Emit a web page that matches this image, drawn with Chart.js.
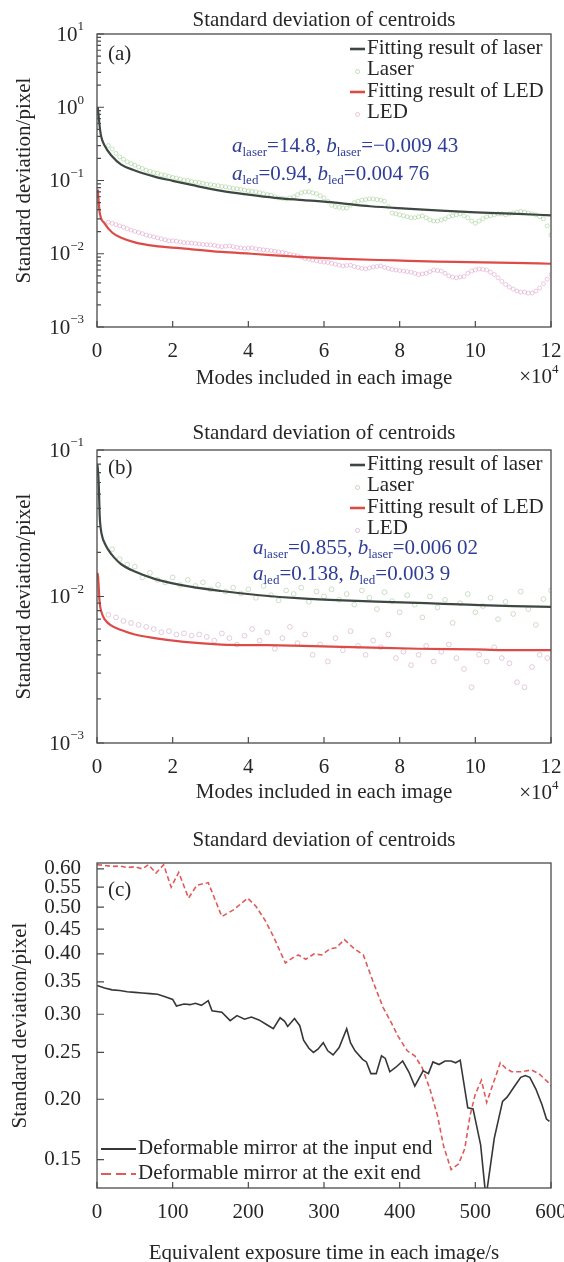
<!DOCTYPE html>
<html>
<head>
<meta charset="utf-8">
<script src="https://cdn.jsdelivr.net/npm/chart.js@4.4.1/dist/chart.umd.min.js"></script>
<style>
  html, body { margin: 0; padding: 0; background: #fff; }
  body { width: 564px; height: 1262px; position: relative; overflow: hidden; }
  canvas { position: absolute; left: 0; }
</style>
</head>
<body>
<canvas id="chartA" width="564" height="408" style="top:0px"></canvas>
<canvas id="chartB" width="564" height="400" style="top:408px"></canvas>
<canvas id="chartC" width="564" height="454" style="top:808px"></canvas>
<script>
const FONT = '"Liberation Serif", "Times New Roman", Times, serif';
const INK = '#262626';
const NOTE_BLUE = '#2f3d96';

const chartTitle = 'Standard deviation of centroids';
const yTitle = 'Standard deviation/pixel';
const xTitleModes = 'Modes included in each image';
const xTitleTime = 'Equivalent exposure time in each image/s';

// tick values
const xTicksModes = [0, 2, 4, 6, 8, 10, 12];
const yTicksA = [10, 1, 0.1, 0.01, 0.001];
const yTicksB = [0.1, 0.01, 0.001];
const xTicksTime = [0, 100, 200, 300, 400, 500, 600];
const yTicksC = [0.15, 0.20, 0.25, 0.30, 0.35, 0.40, 0.45, 0.50, 0.55, 0.60];

// ---- panel (a) ----  x in units of 10^4 modes
const aFitLaserX = [0.02, 0.05, 0.08, 0.11, 0.2, 0.38, 0.64, 1.0, 1.52, 2.0, 2.5, 3.29, 4.0, 4.7, 5.45, 6.29, 7.22, 8.17, 9.09, 10.02, 10.94, 12];
const aFitLaserY = [1.0, 0.7, 0.5, 0.4, 0.3, 0.22, 0.165, 0.137, 0.113, 0.099, 0.087, 0.072, 0.064, 0.058, 0.054, 0.050, 0.0445, 0.0413, 0.0388, 0.0368, 0.0353, 0.0335];
const aFitLedX = [0.02, 0.07, 0.2, 0.4, 0.64, 1.0, 1.52, 2.19, 3.29, 4.08, 5.45, 6.5, 7.88, 9.0, 9.79, 11.0, 12];
const aFitLedY = [0.075, 0.037, 0.026, 0.0195, 0.0165, 0.0143, 0.0128, 0.0119, 0.0106, 0.0100, 0.0090, 0.0085, 0.0081, 0.0078, 0.0077, 0.0075, 0.0073];

// measured points as [x, y]
const aLaserPts = [
  [0.3, 0.30], [0.4, 0.27], [0.5, 0.235], [0.6, 0.21], [0.7, 0.195], [0.8, 0.18], [0.9, 0.17], [1.0, 0.162],
  [1.1, 0.152], [1.2, 0.146], [1.3, 0.138], [1.4, 0.133], [1.5, 0.128], [1.6, 0.126], [1.7, 0.12], [1.8, 0.118],
  [1.9, 0.114], [2.0, 0.11], [2.1, 0.108], [2.2, 0.105], [2.3, 0.101], [2.4, 0.1], [2.5, 0.097], [2.6, 0.095],
  [2.7, 0.094], [2.8, 0.092], [2.9, 0.089], [3.0, 0.088], [3.1, 0.086], [3.2, 0.085], [3.3, 0.083], [3.4, 0.082],
  [3.5, 0.08], [3.6, 0.078], [3.7, 0.077], [3.8, 0.076], [3.9, 0.074], [4.0, 0.072], [4.1, 0.071], [4.2, 0.07],
  [4.3, 0.068], [4.4, 0.066], [4.5, 0.064], [4.6, 0.063], [4.7, 0.06], [4.8, 0.058], [4.9, 0.057], [5.0, 0.056],
  [5.1, 0.058], [5.2, 0.06], [5.3, 0.064], [5.4, 0.068], [5.5, 0.07], [5.6, 0.07], [5.7, 0.068], [5.8, 0.066],
  [5.9, 0.062], [6.0, 0.058], [6.1, 0.052], [6.2, 0.046], [6.3, 0.044], [6.4, 0.043], [6.5, 0.042], [6.6, 0.042],
  [6.7, 0.046], [6.8, 0.05], [6.9, 0.052], [7.0, 0.054], [7.1, 0.055], [7.2, 0.056], [7.3, 0.056], [7.4, 0.055],
  [7.5, 0.054], [7.6, 0.052], [7.7, 0.044], [7.8, 0.036], [7.9, 0.035], [8.0, 0.034], [8.1, 0.033], [8.2, 0.032],
  [8.3, 0.031], [8.4, 0.031], [8.5, 0.032], [8.6, 0.033], [8.7, 0.031], [8.8, 0.029], [8.9, 0.028], [9.0, 0.028],
  [9.1, 0.029], [9.2, 0.03], [9.3, 0.032], [9.4, 0.033], [9.5, 0.034], [9.6, 0.035], [9.7, 0.033], [9.8, 0.031],
  [9.9, 0.028], [10.0, 0.026], [10.1, 0.028], [10.2, 0.03], [10.3, 0.032], [10.4, 0.033], [10.5, 0.034], [10.6, 0.035],
  [10.7, 0.035], [10.8, 0.034], [10.9, 0.035], [11.0, 0.036], [11.1, 0.037], [11.2, 0.038], [11.3, 0.037], [11.4, 0.036],
  [11.5, 0.035], [11.6, 0.034], [11.7, 0.032], [11.8, 0.03], [11.9, 0.024], [12.0, 0.018],
];
const aLedPts = [
  [0.3, 0.027], [0.4, 0.026], [0.5, 0.025], [0.6, 0.024], [0.7, 0.023], [0.8, 0.022], [0.9, 0.021], [1.0, 0.0202],
  [1.1, 0.0195], [1.2, 0.0188], [1.3, 0.018], [1.4, 0.0175], [1.5, 0.017], [1.6, 0.0165], [1.7, 0.016], [1.8, 0.0155],
  [1.9, 0.015], [2.0, 0.015], [2.1, 0.0148], [2.2, 0.0145], [2.3, 0.0142], [2.4, 0.0141], [2.5, 0.014], [2.6, 0.0138],
  [2.7, 0.0136], [2.8, 0.0134], [2.9, 0.0133], [3.0, 0.0132], [3.1, 0.013], [3.2, 0.0127], [3.3, 0.0125], [3.4, 0.0127],
  [3.5, 0.0128], [3.6, 0.0125], [3.7, 0.0122], [3.8, 0.012], [3.9, 0.0118], [4.0, 0.0119], [4.1, 0.012], [4.2, 0.0117],
  [4.3, 0.0115], [4.4, 0.0113], [4.5, 0.0112], [4.6, 0.011], [4.7, 0.0108], [4.8, 0.0106], [4.9, 0.0104], [5.0, 0.0101],
  [5.1, 0.0098], [5.2, 0.0096], [5.3, 0.0094], [5.4, 0.009], [5.5, 0.0086], [5.6, 0.0084], [5.7, 0.0082], [5.8, 0.008],
  [5.9, 0.0078], [6.0, 0.0077], [6.1, 0.0076], [6.2, 0.0074], [6.3, 0.0072], [6.4, 0.007], [6.5, 0.0068], [6.6, 0.0069],
  [6.7, 0.007], [6.8, 0.0067], [6.9, 0.0065], [7.0, 0.0063], [7.1, 0.0062], [7.2, 0.0064], [7.3, 0.0066], [7.4, 0.0067],
  [7.5, 0.0068], [7.6, 0.0065], [7.7, 0.0063], [7.8, 0.0061], [7.9, 0.006], [8.0, 0.0059], [8.1, 0.0058], [8.2, 0.0057],
  [8.3, 0.0056], [8.4, 0.0054], [8.5, 0.0052], [8.6, 0.0053], [8.7, 0.0054], [8.8, 0.0057], [8.9, 0.006], [9.0, 0.0059],
  [9.1, 0.0058], [9.2, 0.0054], [9.3, 0.005], [9.4, 0.0048], [9.5, 0.0047], [9.6, 0.0048], [9.7, 0.0049], [9.8, 0.0054],
  [9.9, 0.0058], [10.0, 0.006], [10.1, 0.0062], [10.2, 0.0061], [10.3, 0.006], [10.4, 0.0056], [10.5, 0.0052], [10.6, 0.0047],
  [10.7, 0.0042], [10.8, 0.0038], [10.9, 0.0035], [11.0, 0.0033], [11.1, 0.0031], [11.2, 0.003], [11.3, 0.003], [11.4, 0.0029],
  [11.5, 0.0029], [11.6, 0.0031], [11.7, 0.0034], [11.8, 0.0039], [11.9, 0.0045], [12.0, 0.0052],
];

// ---- panel (b) ----
const bFitLaserX = [0.01, 0.03, 0.05, 0.07, 0.1, 0.15, 0.2, 0.29, 0.45, 0.64, 1.0, 1.52, 2.2, 3.29, 4.3, 5.4, 6.5, 7.6, 8.7, 9.8, 11.0, 12];
const bFitLaserY = [0.08, 0.07, 0.055, 0.036, 0.029, 0.025, 0.0232, 0.021, 0.0185, 0.0166, 0.0148, 0.0132, 0.012, 0.0109, 0.0102, 0.0097, 0.0094, 0.0092, 0.009, 0.0088, 0.0086, 0.0085];
const bFitLedX = [0.01, 0.03, 0.05, 0.07, 0.12, 0.2, 0.35, 0.64, 1.0, 1.52, 2.3, 3.29, 4.5, 5.45, 7, 8.5, 10, 11.05, 12];
const bFitLedY = [0.0145, 0.0135, 0.011, 0.0091, 0.0078, 0.007, 0.0064, 0.0059, 0.0055, 0.0052, 0.0049, 0.0047, 0.00465, 0.0046, 0.0045, 0.0044, 0.00435, 0.0043, 0.0043];

const bLaserX = [0.4, 0.6, 0.8, 1.0, 1.2, 1.4, 1.6, 1.8, 2.0, 2.2, 2.4, 2.6, 2.8, 3.0, 3.2, 3.4, 3.6, 3.8, 4.0, 4.2, 4.4, 4.6, 4.8, 5.0, 5.2, 5.4, 5.6, 5.8, 6.0, 6.2, 6.4, 6.6, 6.8, 7.0, 7.2, 7.4, 7.6, 7.8, 8.0, 8.2, 8.4, 8.6, 8.8, 9.0, 9.2, 9.4, 9.6, 9.8, 10.0, 10.2, 10.4, 10.6, 10.8, 11.0, 11.2, 11.4, 11.6, 11.8, 12.0];
const bLaserY = [0.021, 0.018, 0.0165, 0.016, 0.0135, 0.0145, 0.013, 0.0125, 0.0135, 0.012, 0.013, 0.0118, 0.0125, 0.0112, 0.012, 0.0108, 0.0115, 0.0105, 0.0112, 0.0098, 0.0118, 0.0102, 0.0094, 0.0110, 0.0104, 0.0115, 0.0092, 0.0108, 0.0100, 0.0112, 0.0095, 0.0104, 0.0088, 0.0110, 0.0098, 0.0082, 0.0107, 0.0093, 0.0078, 0.0102, 0.0088, 0.0072, 0.0100, 0.0084, 0.0095, 0.0066, 0.0090, 0.0104, 0.0078, 0.0086, 0.0098, 0.0070, 0.0092, 0.0076, 0.0108, 0.0082, 0.0064, 0.0096, 0.0110];
const bLedX = [0.3, 0.5, 0.7, 0.9, 1.1, 1.3, 1.5, 1.7, 1.9, 2.1, 2.3, 2.5, 2.7, 2.9, 3.1, 3.3, 3.5, 3.7, 3.9, 4.1, 4.3, 4.5, 4.7, 4.9, 5.1, 5.3, 5.5, 5.7, 5.9, 6.1, 6.3, 6.5, 6.7, 6.9, 7.1, 7.3, 7.5, 7.7, 7.9, 8.1, 8.3, 8.5, 8.7, 8.9, 9.1, 9.3, 9.5, 9.7, 9.9, 10.1, 10.3, 10.5, 10.7, 10.9, 11.1, 11.3, 11.5, 11.7, 11.9];
const bLedY = [0.0075, 0.0072, 0.0068, 0.0066, 0.0064, 0.0062, 0.0060, 0.0057, 0.0058, 0.0055, 0.0056, 0.0054, 0.0055, 0.0053, 0.0050, 0.0056, 0.0052, 0.0047, 0.0054, 0.0060, 0.0050, 0.0057, 0.0044, 0.0052, 0.0062, 0.0048, 0.0055, 0.0040, 0.0047, 0.0036, 0.0052, 0.0043, 0.0058, 0.0046, 0.0040, 0.0050, 0.0045, 0.0055, 0.0038, 0.0042, 0.0034, 0.0040, 0.0046, 0.0036, 0.0042, 0.0047, 0.0038, 0.0032, 0.0024, 0.0040, 0.0036, 0.0045, 0.0038, 0.0035, 0.0026, 0.0024, 0.0033, 0.0040, 0.0038];

// ---- panel (c) ----  x in seconds
const cInputX = [0, 10, 20, 30, 40, 50, 60, 70, 80, 90, 100, 105, 115, 123, 130, 138, 147, 152, 165, 176, 185, 195, 204, 214, 225, 233, 242, 248, 252, 261, 268, 273, 280, 286, 292, 299, 305, 312, 320, 330, 335, 341, 351, 356, 362, 369, 376, 381, 387, 395, 404, 412, 420, 431, 438, 444, 452, 460, 468, 474, 480, 490, 497, 507, 514, 525, 536, 542, 552, 560, 566, 572, 580, 588, 594, 598];
const cInputY = [0.344, 0.340, 0.337, 0.336, 0.334, 0.333, 0.332, 0.331, 0.330, 0.326, 0.322, 0.312, 0.315, 0.314, 0.316, 0.313, 0.320, 0.305, 0.303, 0.291, 0.298, 0.293, 0.296, 0.292, 0.285, 0.280, 0.295, 0.290, 0.283, 0.294, 0.284, 0.265, 0.255, 0.250, 0.254, 0.262, 0.252, 0.247, 0.256, 0.280, 0.262, 0.252, 0.242, 0.239, 0.226, 0.226, 0.246, 0.243, 0.228, 0.233, 0.240, 0.228, 0.213, 0.229, 0.226, 0.239, 0.236, 0.240, 0.240, 0.238, 0.241, 0.192, 0.191, 0.161, 0.125, 0.166, 0.198, 0.202, 0.213, 0.222, 0.224, 0.222, 0.210, 0.195, 0.182, 0.180];
const cExitX = [0, 10, 20, 30, 40, 50, 60, 68, 78, 88, 98, 108, 121, 132, 147, 165, 181, 199, 210, 222, 233, 249, 258, 266, 276, 287, 297, 308, 316, 327, 340, 352, 365, 378, 388, 398, 410, 420, 430, 440, 450, 458, 468, 478, 486, 493, 500, 508, 515, 522, 533, 540, 548, 560, 574, 584, 596, 600];
const cExitY = [0.612, 0.610, 0.607, 0.608, 0.604, 0.606, 0.600, 0.612, 0.588, 0.612, 0.550, 0.590, 0.522, 0.555, 0.562, 0.478, 0.494, 0.522, 0.502, 0.470, 0.435, 0.383, 0.392, 0.398, 0.390, 0.400, 0.398, 0.410, 0.412, 0.428, 0.410, 0.398, 0.350, 0.310, 0.290, 0.270, 0.252, 0.246, 0.232, 0.210, 0.185, 0.160, 0.143, 0.147, 0.158, 0.185, 0.205, 0.219, 0.197, 0.212, 0.238, 0.232, 0.228, 0.228, 0.230, 0.226, 0.217, 0.213];

// fitted parameters printed on the plots
const notesA = [
  [['a', 'i'], ['laser', 's'], ['=14.8, ', ''], ['b', 'i'], ['laser', 's'], ['=\u22120.009 43', '']],
  [['a', 'i'], ['led', 's'], ['=0.94, ', ''], ['b', 'i'], ['led', 's'], ['=0.004 76', '']],
];
const notesB = [
  [['a', 'i'], ['laser', 's'], ['=0.855, ', ''], ['b', 'i'], ['laser', 's'], ['=0.006 02', '']],
  [['a', 'i'], ['led', 's'], ['=0.138, ', ''], ['b', 'i'], ['led', 's'], ['=0.003 9', '']],
];

Chart.defaults.font.family = FONT;
Chart.defaults.color = INK;
Chart.defaults.animation = false;

function pts(xs, ys) { return xs.map((x, i) => ({ x, y: ys[i] })); }
function pairs(list) { return list.map(([x, y]) => ({ x, y })); }

function curve(label, data, color, width, dash, smooth) {
  return {
    label, data, showLine: true,
    borderColor: color, backgroundColor: color, borderWidth: width,
    borderDash: dash || [], pointRadius: 0, pointHoverRadius: 0,
    cubicInterpolationMode: smooth ? 'monotone' : 'default', tension: 0,
    order: 0,
  };
}

function dots(label, data, color, r) {
  return {
    label, data, showLine: false,
    pointStyle: 'circle', pointRadius: r, pointBorderWidth: 0.9,
    borderColor: color, backgroundColor: 'rgba(255,255,255,0)',
    order: 1,
  };
}

function richLine(ctx, segs, x, base) {
  segs.forEach(([t, s]) => {
    if (s === 's') {
      ctx.font = `13px ${FONT}`;
      ctx.fillText(t, x, base + 4);
    } else {
      ctx.font = (s === 'i' ? 'italic ' : '') + `21px ${FONT}`;
      ctx.fillText(t, x, base);
    }
    x += ctx.measureText(t).width;
  });
}

// frame, inward ticks, log labels, legend and notes
const decorations = {
  id: 'decorations',
  afterDatasetsDraw(chart, args, o) {
    const { ctx, chartArea: ca, scales: { x: xs, y: ys } } = chart;
    ctx.save();
    ctx.strokeStyle = '#4a4a4a';
    ctx.lineWidth = 1.3;
    ctx.setLineDash([]);
    ctx.strokeRect(ca.left, ca.top, ca.right - ca.left, ca.bottom - ca.top);

    ctx.lineWidth = 1.2;
    ctx.beginPath();
    xs.ticks.forEach(t => {
      const px = xs.getPixelForValue(t.value);
      ctx.moveTo(px, ca.bottom); ctx.lineTo(px, ca.bottom - 6);
    });
    ys.ticks.forEach(t => {
      const py = ys.getPixelForValue(t.value);
      ctx.moveTo(ca.left, py); ctx.lineTo(ca.left + 7, py);
    });
    if (o.minor) {
      ys.ticks.forEach(t => {
        for (let k = 2; k < 10; k++) {
          const v = t.value * k;
          if (v >= ys.max) continue;
          const py = ys.getPixelForValue(v);
          ctx.moveTo(ca.left, py); ctx.lineTo(ca.left + 4, py);
        }
      });
    }
    ctx.stroke();

    ctx.fillStyle = INK;
    ctx.textBaseline = 'middle';
    if (o.logLabels) {
      ys.ticks.forEach(t => {
        const py = ys.getPixelForValue(t.value);
        const p = Math.round(Math.log10(t.value));
        const e = p < 0 ? '\u2212' + (-p) : String(p);
        ctx.font = `13px ${FONT}`;
        const ew = ctx.measureText(e).width;
        const xr = ca.left - 13;
        ctx.textAlign = 'left';
        ctx.fillText(e, xr - ew, py - 7);
        ctx.font = `21px ${FONT}`;
        ctx.textAlign = 'right';
        ctx.fillText('10', xr - ew, py + 1);
      });
    }

    if (o.power) {
      ctx.font = `21px ${FONT}`;
      ctx.textAlign = 'right';
      ctx.fillText('\u00d710', 552, o.power);
      ctx.font = `13px ${FONT}`;
      ctx.textAlign = 'left';
      ctx.fillText('4', 552, o.power - 7);
    }

    ctx.font = `21px ${FONT}`;
    ctx.textAlign = 'left';
    ctx.fillText(o.tag, ca.left + 11, o.tagY);

    if (o.legend) {
      const L = o.legend;
      chart.data.datasets.forEach((ds, i) => {
        const y = L.bottom ? ca.bottom + L.y0 + i * L.dy : ca.top + L.y0 + i * L.dy;
        if (ds.showLine) {
          ctx.strokeStyle = ds.borderColor;
          ctx.lineWidth = L.lw;
          ctx.setLineDash(ds.borderDash.length ? L.dash : []);
          ctx.beginPath();
          ctx.moveTo(L.x0, y + 1); ctx.lineTo(L.x0 + L.len, y + 1);
          ctx.stroke();
          ctx.setLineDash([]);
        } else {
          ctx.strokeStyle = ds.borderColor;
          ctx.lineWidth = 1;
          ctx.beginPath();
          ctx.arc(L.x0 + L.len / 2, y + 2, 2, 0, Math.PI * 2);
          ctx.stroke();
        }
        ctx.fillStyle = INK;
        ctx.font = `21px ${FONT}`;
        ctx.textAlign = 'left';
        ctx.textBaseline = 'middle';
        ctx.fillText(ds.label, L.x0 + L.len + 2, y);
      });
    }

    if (o.notes) {
      ctx.fillStyle = NOTE_BLUE;
      ctx.textBaseline = 'alphabetic';
      ctx.textAlign = 'left';
      o.notes.lines.forEach((segs, i) => richLine(ctx, segs, o.notes.x, o.notes.base[i]));
    }
    ctx.restore();
  }
};

function modesX(titlePadBottom, height) {
  return {
    type: 'linear', min: 0, max: 12,
    afterBuildTicks: s => { s.ticks = xTicksModes.map(v => ({ value: v })); },
    afterFit: s => { s.height = height; s.paddingLeft = 0; s.paddingRight = 0; },
    grid: { display: false, drawTicks: false },
    border: { display: false },
    ticks: { padding: 12, maxRotation: 0, autoSkip: false, font: { size: 21 }, color: INK },
    title: { display: true, text: xTitleModes, color: INK, font: { size: 21 }, padding: { top: 0, bottom: titlePadBottom } },
  };
}

function logY(min, max, ticks, titlePadTop) {
  return {
    type: 'logarithmic', min, max,
    afterBuildTicks: s => { s.ticks = ticks.map(v => ({ value: v })); },
    afterFit: s => { s.width = 97; },
    grid: { display: false, drawTicks: false },
    border: { display: false },
    ticks: { display: false },
    title: { display: true, text: yTitle, color: INK, font: { size: 21 }, padding: { top: titlePadTop, bottom: 0 } },
  };
}

function titleOpt(top, bottom) {
  return {
    display: true, text: chartTitle, fullSize: false, color: INK,
    font: { size: 21, weight: 'normal' }, padding: { top, bottom },
  };
}

const legendAB = { x0: 350, len: 15, y0: 14, dy: 21.5, lw: 2.6, dash: [] };

new Chart(document.getElementById('chartA'), {
  type: 'scatter',
  data: {
    datasets: [
      curve('Fitting result of laser', pts(aFitLaserX, aFitLaserY), '#3e4842', 2.2, null, true),
      dots('Laser', pairs(aLaserPts), 'rgba(140,195,120,0.5)', 2),
      curve('Fitting result of LED', pts(aFitLedX, aFitLedY), '#dc4b47', 2.2, null, true),
      dots('LED', pairs(aLedPts), 'rgba(215,140,190,0.5)', 2),
    ]
  },
  options: {
    responsive: false,
    layout: { padding: { left: 0, right: 13, top: 0, bottom: 0 } },
    scales: { x: modesX(17.4, 81), y: logY(0.001, 10, yTicksA, 11.4) },
    plugins: {
      legend: { display: false }, tooltip: { enabled: false },
      title: titleOpt(7.4, 1.4),
      decorations: { minor: true, logLabels: true, power: 377, tag: '(a)', tagY: 54, legend: legendAB,
        notes: { x: 232, base: [152, 180], lines: notesA } },
    }
  },
  plugins: [decorations]
});

new Chart(document.getElementById('chartB'), {
  type: 'scatter',
  data: {
    datasets: [
      curve('Fitting result of laser', pts(bFitLaserX, bFitLaserY), '#3e4842', 2.2, null, true),
      dots('Laser', pts(bLaserX, bLaserY), 'rgba(150,190,140,0.55)', 2.4),
      curve('Fitting result of LED', pts(bFitLedX, bFitLedY), '#dc4b47', 2.2, null, true),
      dots('LED', pts(bLedX, bLedY), 'rgba(200,150,185,0.55)', 2.4),
    ]
  },
  options: {
    responsive: false,
    layout: { padding: { left: 0, right: 13, top: 0, bottom: 0 } },
    scales: { x: modesX(3.4, 65), y: logY(0.001, 0.1, yTicksB, 11.4) },
    plugins: {
      legend: { display: false }, tooltip: { enabled: false },
      title: titleOpt(12.4, 4.4),
      decorations: { minor: true, logLabels: true, power: 385, tag: '(b)', tagY: 60, legend: legendAB,
        notes: { x: 253, base: [146, 172], lines: notesB } },
    }
  },
  plugins: [decorations]
});

new Chart(document.getElementById('chartC'), {
  type: 'scatter',
  data: {
    datasets: [
      curve('Deformable mirror at the input end', pts(cInputX, cInputY), '#363636', 1.6, null, false),
      curve('Deformable mirror at the exit end', pts(cExitX, cExitY), '#e05a5a', 1.6, [5, 3], false),
    ]
  },
  options: {
    responsive: false,
    layout: { padding: { left: 0, right: 13, top: 0, bottom: 0 } },
    scales: {
      x: {
        type: 'linear', min: 0, max: 600,
        afterBuildTicks: s => { s.ticks = xTicksTime.map(v => ({ value: v })); },
        afterFit: s => { s.height = 74; s.paddingLeft = 0; s.paddingRight = 0; },
        grid: { display: false, drawTicks: false },
        border: { display: false },
        ticks: { padding: 12, maxRotation: 0, autoSkip: false, font: { size: 21 }, color: INK },
        title: { display: true, text: xTitleTime, color: INK, font: { size: 21, lineHeight: 0.85 }, padding: { top: 0, bottom: 0 } },
      },
      y: {
        type: 'logarithmic', min: 0.131, max: 0.617,
        afterBuildTicks: s => { s.ticks = yTicksC.map(v => ({ value: v })); },
        afterFit: s => { s.width = 97; },
        grid: { display: false, drawTicks: false },
        border: { display: false },
        ticks: { padding: 16, font: { size: 21 }, color: INK, callback: v => Number(v).toFixed(2) },
        title: { display: true, text: yTitle, color: INK, font: { size: 21 }, padding: { top: 7.4, bottom: 0 } },
      }
    },
    plugins: {
      legend: { display: false }, tooltip: { enabled: false },
      title: titleOpt(19.4, 10.4),
      decorations: { minor: false, logLabels: false, power: 0, tag: '(c)', tagY: 82,
        legend: { bottom: true, x0: 101, len: 35, y0: -40, dy: 25, lw: 2, dash: [10, 5] } },
    }
  },
  plugins: [decorations]
});
</script>
</body>
</html>
